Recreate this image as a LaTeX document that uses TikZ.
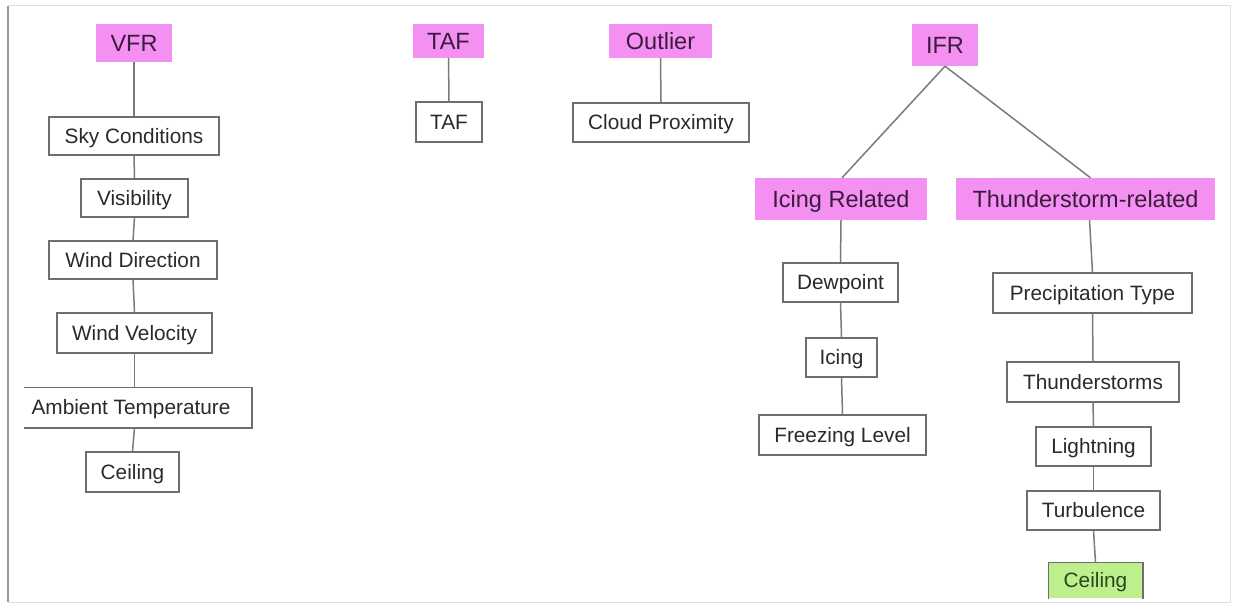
\documentclass[tikz,border=0pt]{standalone}
\usepackage{fontspec}
\setmainfont{Liberation Sans}
\usetikzlibrary{calc}
\definecolor{pinkfill}{HTML}{F490F2}
\definecolor{pinktxt}{HTML}{3A1C3A}
\definecolor{greenfill}{HTML}{BDF08C}
\definecolor{greentxt}{HTML}{2A461C}
\definecolor{boxgray}{HTML}{6E6E6E}
\definecolor{txtgray}{HTML}{2A2A2A}
\definecolor{linegray}{HTML}{7A7A7A}
\tikzset{
  box/.style={draw=boxgray, line width=1.5pt, fill=white, inner sep=0pt,
    text=txtgray, font=\fontsize{20.8}{24}\selectfont,
    text height=14.9pt, text depth=0pt},
  openbox/.style={box, draw=none},
  head/.style={fill=pinkfill, inner sep=0pt, text=pinktxt,
    font=\fontsize{23.5}{28}\selectfont, text height=16.8pt, text depth=0pt},
  leaf/.style={box, draw=none, fill=greenfill, text=greentxt},
  link/.style={draw=linegray, line width=1.5pt},
  edge3/.style={draw=boxgray, line width=1.5pt},
}
\begin{document}
\begin{tikzpicture}[x=1pt, y=-1pt]
\useasboundingbox (0,0) rectangle (1233,610);
% slide frame
\draw[draw=black!12, line width=1pt] (8,6) -- (1230,6) -- (1230,602) -- (8,602);
\draw[draw=black!40, line width=2pt] (8,6) -- (8,602);

% VFR branch
\node[head, minimum width=76, minimum height=38] (vfr) at (134,43) {VFR};
\node[box, minimum width=170, minimum height=38] (sky) at (134,136) {Sky Conditions};
\node[box, minimum width=107, minimum height=38] (vis) at (134.5,198) {Visibility};
\node[box, minimum width=168, minimum height=38] (wdir) at (133,260) {Wind Direction};
\node[box, minimum width=155, minimum height=40] (wvel) at (134.5,333) {Wind Velocity};
\node[openbox, minimum width=226, minimum height=39] (amb) at (138,407.5) {\hspace*{-14pt}Ambient Temperature};
\draw[edge3] (amb.north west) -- (amb.north east) -- (amb.south east) -- (amb.south west);
\node[box, minimum width=93, minimum height=40] (ceilA) at (132.5,472) {Ceiling};
\draw[link] (vfr.south) -- (sky.north);
\draw[link] (sky.south) -- (vis.north);
\draw[link] (vis.south) -- (wdir.north);
\draw[link] (wdir.south) -- (wvel.north);
\draw[link] (wvel.south) -- (amb.north -| wvel.south);
\draw[link] (amb.south -| wvel.south) -- (ceilA.north);

% TAF branch
\node[head, minimum width=71, minimum height=34] (tafh) at (448.5,41) {TAF};
\node[box, minimum width=66, minimum height=40] (taf) at (449,122) {TAF};
\draw[link] (tafh.south) -- (taf.north);

% Outlier branch
\node[head, minimum width=103, minimum height=34] (outl) at (660.5,41) {Outlier};
\node[box, minimum width=176, minimum height=39] (cloud) at (661,122.5) {Cloud Proximity};
\draw[link] (outl.south) -- (cloud.north);

% IFR branch
\node[head, minimum width=66, minimum height=42] (ifr) at (945,45) {IFR};
\node[head, minimum width=172, minimum height=42] (icr) at (841,199) {Icing Related};
\node[head, minimum width=259, minimum height=42] (thr) at (1085.5,199) {Thunderstorm-related};
\draw[link] (ifr.south) -- ($(icr.north)+(1,0)$);
\draw[link] (ifr.south) -- ($(thr.north)+(5,0)$);

\node[box, minimum width=115, minimum height=39] (dew) at (840.5,282.5) {Dewpoint};
\node[box, minimum width=71, minimum height=39] (icing) at (841.5,357.5) {Icing};
\node[box, minimum width=167, minimum height=40] (frz) at (842.5,435) {Freezing Level};
\draw[link] (icr.south) -- (dew.north);
\draw[link] (dew.south) -- (icing.north);
\draw[link] (icing.south) -- (frz.north);

\node[box, minimum width=199, minimum height=40] (prec) at (1092.5,293) {Precipitation Type};
\node[box, minimum width=172, minimum height=40] (tst) at (1093,382) {Thunderstorms};
\node[box, minimum width=115, minimum height=39] (ltn) at (1093.5,446.5) {Lightning};
\node[box, minimum width=133, minimum height=39] (turb) at (1093.5,510.5) {Turbulence};
\node[leaf, minimum width=93, minimum height=35] (ceilB) at (1095.5,580.5) {Ceiling};
\draw[edge3] (ceilB.south west) -- (ceilB.north west) -- (ceilB.north east) -- (ceilB.south east);
\draw[link] ($(thr.south)+(4,0)$) -- (prec.north);
\draw[link] (prec.south) -- (tst.north);
\draw[link] (tst.south) -- (ltn.north);
\draw[link] (ltn.south) -- (turb.north);
\draw[link] (turb.south) -- (ceilB.north);
\end{tikzpicture}
\end{document}
